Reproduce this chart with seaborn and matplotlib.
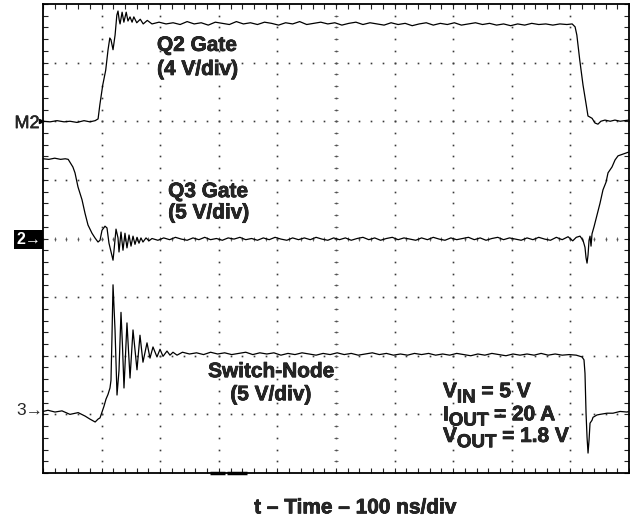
import numpy as np
import pandas as pd
import matplotlib
matplotlib.use("Agg")
import matplotlib.pyplot as plt
import matplotlib.patheffects as pe
import seaborn as sns

# ---- data: time in ns (100 ns/div), level in screen divisions (centre = 0) ----
q2_gate = [(0, 2.00), (12, 1.99), (24, 2.01), (36, 1.99), (46, 2.00), (58, 1.98), (70, 2.01), (80, 1.99),
           (89, 2.01), (94, 2.04), (97, 2.28), (102, 2.62), (107, 2.87), (111, 3.22), (114, 3.42), (116, 3.39),
           (119.5, 3.22), (123, 3.47), (126, 3.81), (128, 3.88), (130, 3.73), (131.5, 3.66), (135, 3.86),
           (138, 3.69), (142, 3.86), (145, 3.71), (148.5, 3.78), (152, 3.69), (155, 3.78), (160, 3.68),
           (166, 3.74), (171, 3.66), (178, 3.72), (186, 3.66),
           (198, 3.69), (210, 3.66), (222, 3.68), (234, 3.65), (246, 3.70), (258, 3.66), (270, 3.68),
           (282, 3.64), (294, 3.69), (306, 3.67), (318, 3.65), (330, 3.70), (342, 3.66), (354, 3.68),
           (366, 3.65), (378, 3.69), (390, 3.67), (402, 3.64), (414, 3.68), (426, 3.66), (438, 3.70),
           (450, 3.65), (462, 3.67), (474, 3.69), (486, 3.66), (498, 3.68), (510, 3.64), (522, 3.67),
           (534, 3.69), (546, 3.65), (558, 3.68), (570, 3.66), (582, 3.64), (594, 3.68), (606, 3.65),
           (618, 3.67), (630, 3.63), (642, 3.66), (654, 3.68), (666, 3.64), (678, 3.67), (690, 3.65),
           (702, 3.68), (714, 3.64), (726, 3.66), (738, 3.68), (750, 3.65), (762, 3.67), (774, 3.64),
           (786, 3.66), (798, 3.63), (810, 3.66), (822, 3.64), (834, 3.67), (846, 3.65), (858, 3.66),
           (870, 3.64), (882, 3.66), (894, 3.65), (903, 3.66),
           (908, 3.61), (911, 3.47), (916, 3.04), (921.5, 2.62), (927, 2.28), (930, 2.09), (933.5, 2.07),
           (937, 2.05), (942, 1.97), (947, 1.95), (952, 2.00), (959, 2.02), (968, 2.00), (976, 2.02),
           (985, 2.00), (992, 2.01), (1000, 2.02)]

q3_gate = [(0, 1.36), (10, 1.35), (20, 1.37), (30, 1.35), (38, 1.36), (43, 1.35), (46, 1.30), (51, 1.22),
           (54.6, 1.12), (59.7, 0.88), (66.6, 0.66), (71.7, 0.43), (76.8, 0.23), (83.6, 0.09), (88.7, 0.01),
           (93.9, -0.06), (97.3, -0.03), (100.7, 0.14), (105.8, 0.21), (109.2, 0.18), (112.6, -0.08),
           (119.5, -0.37), (121.2, -0.20), (124.6, 0.16), (128, 0.01), (129.7, -0.23), (133.1, 0.11),
           (136.5, -0.20), (139.9, 0.09), (143.3, -0.16), (146.8, 0.06), (150.2, -0.13), (153.6, 0.04),
           (157, -0.10), (160.4, 0.02), (163.8, -0.08), (167.2, 0.01), (170.6, -0.06), (175.8, 0.01),
           (180.9, -0.04), (186, 0.00),
           (196, -0.03), (206, 0.01), (216, -0.02), (226, 0.02), (236, -0.01), (246, -0.03), (256, 0.01),
           (266, -0.02), (276, 0.02), (286, -0.02), (296, 0.00), (306, -0.03), (316, 0.01), (326, -0.01),
           (336, 0.02), (346, -0.02), (356, 0.00), (366, -0.03), (376, 0.01), (386, -0.02), (396, 0.02),
           (406, -0.01), (416, -0.03), (426, 0.01), (436, -0.02), (446, 0.01), (456, -0.02), (466, 0.02),
           (476, -0.01), (486, -0.03), (496, 0.01), (506, -0.02), (516, 0.01), (526, -0.03), (536, 0.00),
           (546, 0.02), (556, -0.02), (566, 0.01), (576, -0.03), (586, 0.00), (596, 0.02), (606, -0.02),
           (616, 0.01), (626, -0.01), (636, -0.03), (646, 0.01), (656, -0.02), (666, 0.02), (676, -0.01),
           (686, -0.03), (696, 0.01), (706, -0.02), (716, 0.00), (726, 0.02), (736, -0.02), (746, 0.01),
           (756, -0.03), (766, 0.00), (776, 0.02), (786, -0.02), (796, 0.01), (806, -0.01), (816, -0.03),
           (826, 0.01), (836, -0.02), (846, 0.02), (856, -0.01), (866, -0.03), (876, 0.02), (886, -0.02),
           (896, 0.03), (904, -0.04), (910, 0.02),
           (916.4, 0.04), (921.5, -0.03), (924.9, -0.15), (926.7, -0.33), (928.4, -0.42), (930.1, -0.28),
           (931.8, -0.03), (933.5, 0.04), (935.2, -0.13), (936.9, 0.08), (940.3, 0.20), (945.4, 0.40),
           (950.5, 0.60), (955.6, 0.83), (960.8, 0.96), (964.2, 1.12), (971, 1.22), (976.2, 1.34),
           (981.3, 1.41), (989.8, 1.44), (998.3, 1.47), (1000, 1.47)]

switch_node = [(0, -2.95), (8.5, -2.93), (20.5, -2.96), (32.4, -2.94), (46, -3.00), (60, -2.97), (72, -3.03),
               (80, -3.08), (89, -3.13), (94, -3.08), (97.3, -3.06), (100.7, -2.96), (104.1, -2.86),
               (107.5, -2.74), (110.9, -2.66), (114.3, -2.55), (116, -2.42), (117.7, -1.68), (119.5, -0.79),
               (122.9, -1.56), (126.3, -2.67), (129.7, -2.25), (133.1, -1.26), (135.6, -1.82), (138.2, -2.55),
               (143.3, -1.44), (148.5, -2.38), (153.6, -1.56), (160.4, -2.24), (165.5, -1.65), (170.6, -2.11),
               (177.5, -1.78), (182.6, -2.04), (187.7, -1.85), (194.5, -2.02), (199.7, -1.89), (204.8, -2.01),
               (211.6, -1.92), (216.7, -1.99), (221.8, -1.94), (228.7, -1.99),
               (238, -1.94), (250, -1.97), (262, -1.95), (274, -1.98), (286, -1.94), (298, -1.97), (310, -1.95),
               (322, -1.98), (334, -1.96), (346, -1.94), (358, -1.98), (370, -1.95), (382, -1.97), (394, -1.95),
               (406, -1.99), (418, -1.96), (430, -1.98), (442, -1.95), (454, -1.97), (466, -1.99), (478, -1.96),
               (490, -1.98), (502, -1.95), (514, -1.98), (526, -1.96), (538, -1.99), (550, -1.97), (562, -1.95),
               (574, -1.98), (586, -1.96), (598, -1.99), (610, -1.97), (622, -1.99), (634, -1.96), (646, -1.98),
               (658, -1.96), (670, -1.99), (682, -1.97), (694, -1.99), (706, -1.96), (718, -1.98), (730, -2.00),
               (742, -1.97), (754, -1.99), (766, -1.96), (778, -1.98), (790, -2.00), (802, -1.97), (814, -1.99),
               (826, -1.97), (838, -1.99), (850, -1.96), (862, -1.99), (874, -1.97), (886, -1.99), (898, -1.98),
               (910, -1.99),
               (919.8, -2.02), (923.2, -2.07), (924.9, -2.30), (926.7, -2.98), (928.4, -3.39), (930.1, -3.66),
               (931.8, -3.44), (933.5, -3.15), (936.9, -3.10), (938.6, -3.05), (945.4, -3.01), (950.5, -3.00),
               (962.5, -2.98), (972.7, -2.98), (984.7, -2.95), (996.6, -2.96), (1000, -2.95)]

trace_names = ["Q2 Gate", "Q3 Gate", "Switch-Node"]
cond_main = ["V", "I", "V"]
cond_sub = ["IN", "OUT", "OUT"]
cond_rest = [" = 5 V", " = 20 A", " = 1.8 V"]
x_label = "t \u2013 Time \u2013 100 ns/div"

# ---- build table ----
rows = []
for name, pts in zip(trace_names, [q2_gate, q3_gate, switch_node]):
    for t, v in pts:
        rows.append({"trace": name, "t": t, "v": v})
df = pd.DataFrame(rows)

sns.set_style("ticks")
plt.rcParams["font.family"] = ["Liberation Sans", "DejaVu Sans"]

fig = plt.figure(figsize=(6.3, 5.17), dpi=100)
ax = fig.add_axes([43 / 630, 44 / 517, 586 / 630, 469 / 517])

# grid dots
dot_col = "#3a3a3a"
for tv in range(100, 1000, 100):
    yy = np.arange(-4, 4.001, 0.2)
    ax.plot(np.full_like(yy, tv), yy, ls="none", marker="s", ms=1.2, mew=0, color=dot_col, zorder=1)
for vv in range(-3, 4):
    xx = np.arange(0, 1000.1, 20)
    ax.plot(xx, np.full_like(xx, vv, dtype=float), ls="none", marker="s", ms=1.2, mew=0, color=dot_col, zorder=1)
# centre cross ticks
yy = np.arange(-3.8, 3.81, 0.2)
ax.plot(np.full_like(yy, 500), yy, ls="none", marker="_", ms=3.2, mew=0.6, color="#555555", zorder=1)
xx = np.arange(20, 1000, 20)
ax.plot(xx, np.zeros_like(xx, dtype=float), ls="none", marker="|", ms=3.2, mew=0.6, color="#555555", zorder=1)

sns.lineplot(data=df, x="t", y="v", units="trace", estimator=None, sort=False,
             color="black", lw=0.9, ax=ax, legend=False, zorder=3)

ax.set_xlim(0, 1000)
ax.set_ylim(-4, 4)
ax.set_xlabel("")
ax.set_ylabel("")
ax.set_xticks(range(0, 1001, 100))
ax.set_xticks(range(0, 1001, 20), minor=True)
ax.set_yticks(range(-4, 5))
ax.set_yticks(np.arange(-4, 4.01, 0.2), minor=True)
ax.tick_params(which="both", direction="in", length=3.5, width=0.8, color="#222222",
               top=True, right=True, bottom=True, left=True,
               labelbottom=False, labelleft=False, labeltop=False, labelright=False)
for s in ax.spines.values():
    s.set_color("black")
    s.set_linewidth(1.3)

# trace labels
fs = 15
thick = [pe.withStroke(linewidth=0.5, foreground="black")]
lab_kw = dict(ha="center", va="baseline", fontsize=fs, fontweight="bold", path_effects=thick)
ax.text(263, 3.20, "Q2 Gate", **lab_kw)
ax.text(264, 2.79, "(4 V/div)", **lab_kw)
ax.text(282, 0.706, "Q3 Gate", **lab_kw)
ax.text(283, 0.343, "(5 V/div)", **lab_kw)
ax.text(390, -2.365, "Switch-Node", **lab_kw)
ax.text(389, -2.758, "(5 V/div)", **lab_kw)

# operating conditions with subscripts
for k, vb in enumerate([-2.706, -3.10, -3.47]):
    t1 = ax.text(682.6, vb, cond_main[k], ha="left", va="baseline", fontsize=fs,
                 fontweight="bold", path_effects=thick)
    t2 = ax.annotate(cond_sub[k], xy=(1, vb), xycoords=(t1, "data"), xytext=(0, -3.8),
                     textcoords="offset points", ha="left", va="baseline", fontsize=13.5,
                     fontweight="bold", path_effects=thick)
    ax.annotate(cond_rest[k], xy=(1, vb), xycoords=(t2, "data"), xytext=(0, 0),
                textcoords="offset points", ha="left", va="baseline", fontsize=fs,
                fontweight="bold", path_effects=thick)

# channel markers on the left
ytr = ax.get_yaxis_transform()
ax.text(-0.006, 1.96, "M2", transform=ytr, ha="right", va="center", fontsize=13, clip_on=False,
        path_effects=[pe.withStroke(linewidth=0.3, foreground="black")])
ax.plot([-0.003], [2.0], transform=ytr, marker=">", ms=3, color="black", clip_on=False)
ax.text(-0.003, -0.02, "2\u2192", transform=ytr, ha="right", va="center", fontsize=11.5,
        fontweight="bold", color="white", clip_on=False,
        bbox=dict(boxstyle="square,pad=0.12", fc="black", ec="none"))
ax.text(0.0, -2.93, "3\u2192", transform=ytr, ha="right", va="center", fontsize=12.5, clip_on=False)

# trigger marker on bottom edge
ax.plot([285, 310.6], [-4, -4], color="black", lw=2.5, solid_capstyle="butt", clip_on=False, zorder=5)
ax.plot([314, 348], [-4, -4], color="black", lw=2.5, solid_capstyle="butt", clip_on=False, zorder=5)

fig.text(355.5 / 630, 3.7 / 517, x_label, ha="center", va="baseline", fontsize=fs, fontweight="bold",
         path_effects=thick)

fig.savefig("out.png", dpi=100, facecolor="white")
